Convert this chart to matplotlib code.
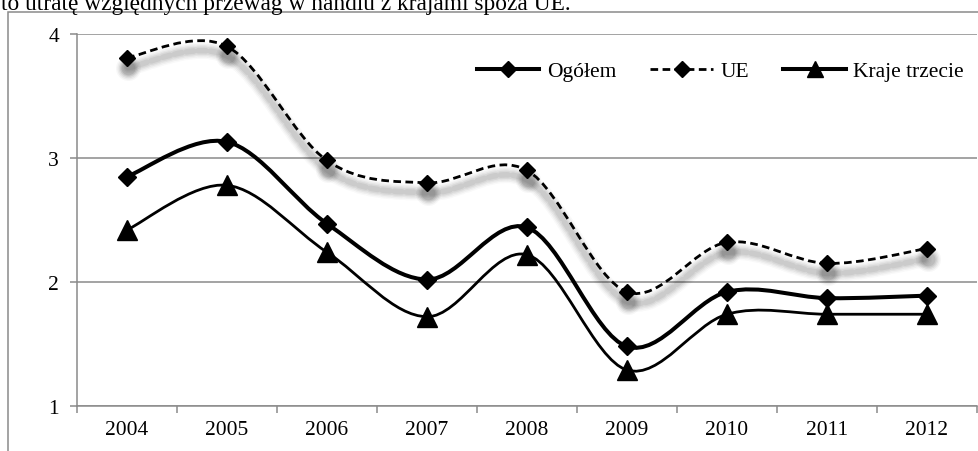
import matplotlib
matplotlib.use('Agg')
import numpy as np
import matplotlib.pyplot as plt
import matplotlib.transforms as mtransforms
from matplotlib.path import Path
from matplotlib.patches import PathPatch, Rectangle
from matplotlib.lines import Line2D

# dane
lata = ['2004', '2005', '2006', '2007', '2008', '2009', '2010', '2011', '2012']
ogolem = [2.85, 3.13, 2.47, 2.02, 2.44, 1.48, 1.92, 1.87, 1.89]
ue = [3.81, 3.90, 2.98, 2.80, 2.90, 1.92, 2.32, 2.15, 2.27]
kraje = [2.42, 2.78, 2.24, 1.72, 2.22, 1.29, 1.74, 1.74, 1.74]

plt.rcParams['font.family'] = ['Liberation Serif', 'DejaVu Serif']
plt.rcParams['lines.scale_dashes'] = False

szary = '#8a8a8a'
kreski = (0, (5.5, 3.2))


def gladka_sciezka(ys):
    # wygladzona linia jak w Excelu (krzywe Beziera przez punkty)
    pts = list(zip(range(len(ys)), ys))
    n = len(pts)
    verts = [pts[0]]
    codes = [Path.MOVETO]
    for i in range(n - 1):
        p0 = pts[max(i - 1, 0)]
        p1 = pts[i]
        p2 = pts[i + 1]
        p3 = pts[min(i + 2, n - 1)]
        c1 = (p1[0] + (p2[0] - p0[0]) / 6, p1[1] + (p2[1] - p0[1]) / 6)
        c2 = (p2[0] - (p3[0] - p1[0]) / 6, p2[1] - (p3[1] - p1[1]) / 6)
        verts += [c1, c2, p2]
        codes += [Path.CURVE4] * 3
    return Path(verts, codes)


fig = plt.figure(figsize=(9.79, 4.52), dpi=100)
ax = fig.add_axes([77 / 979, 45 / 452, 900 / 979, 372 / 452])

# ramka wykresu
fig.patches.append(Rectangle((8 / 979, -0.2), 1.2, 1.2 - 13 / 452,
                             transform=fig.transFigure, fill=False,
                             edgecolor=szary, lw=1.1))
fig.text(1 / 979, 1 - 10 / 452, 'to utratę względnych przewag w handlu z krajami spoza UE.',
         fontsize=16.8, va='baseline', ha='left')

x = np.arange(len(lata))

# cien pod linia UE
przes = ax.transData + mtransforms.ScaledTranslation(0.01, -0.10, fig.dpi_scale_trans)
for lw, ms, a in [(12, 18, 0.025), (10, 16, 0.035), (8, 14, 0.045),
                  (6, 12, 0.055), (4, 10, 0.06)]:
    ax.add_patch(PathPatch(gladka_sciezka(ue), fill=False, edgecolor='k', alpha=a,
                           lw=lw, linestyle=kreski, capstyle='round', transform=przes,
                           zorder=2))
    ax.plot(x, ue, linestyle='none', marker='o', ms=ms, color='k', alpha=a * 1.3,
            mew=0, transform=przes, zorder=2)

ax.add_patch(PathPatch(gladka_sciezka(ue), fill=False, edgecolor='k', lw=2.0,
                       linestyle=kreski, capstyle='butt', zorder=3))
ax.plot(x, ue, linestyle='none', marker='D', ms=8.5, color='k', zorder=4)

ax.add_patch(PathPatch(gladka_sciezka(ogolem), fill=False, edgecolor='k', lw=2.9,
                       zorder=3))
ax.plot(x, ogolem, linestyle='none', marker='D', ms=9, color='k', zorder=4)

ax.add_patch(PathPatch(gladka_sciezka(kraje), fill=False, edgecolor='k', lw=2.0,
                       zorder=3))
ax.plot(x, kraje, linestyle='none', marker='^', ms=14, color='k', zorder=4)

ax.set_xlim(-0.5, 8.5)
ax.set_ylim(1, 4)
ax.set_yticks([1, 2, 3, 4])
ax.set_xticks(np.arange(-0.5, 9, 1))
ax.set_xticklabels([])
ax.set_xticks(x, minor=True)
ax.set_xticklabels(lata, minor=True)
ax.tick_params(axis='x', which='minor', length=0, pad=10, labelsize=15.5)
ax.tick_params(axis='x', which='major', length=5, width=1.1, color=szary)
ax.tick_params(axis='y', length=5, width=1.1, color=szary, pad=8, labelsize=15.5)
ax.yaxis.grid(True, color=szary, lw=1.1)
ax.set_axisbelow(True)
for s in ['top', 'right']:
    ax.spines[s].set_visible(False)
for s in ['left', 'bottom']:
    ax.spines[s].set_color(szary)
    ax.spines[s].set_linewidth(1.1)

uchwyty = [
    Line2D([], [], color='k', lw=2.9, marker='D', ms=8),
    Line2D([], [], color='k', lw=2.0, linestyle=kreski, marker='D', ms=8),
    Line2D([], [], color='k', lw=2.9, marker='^', ms=11),
]
ax.legend(uchwyty, ['Ogółem', 'UE', 'Kraje trzecie'], loc='center right',
          bbox_to_anchor=(1.0, 0.90), ncol=3, frameon=False, fontsize=15.5,
          handlelength=2.9, handletextpad=0.35, columnspacing=1.6,
          borderaxespad=0.2)

fig.savefig('out.png', dpi=100)
